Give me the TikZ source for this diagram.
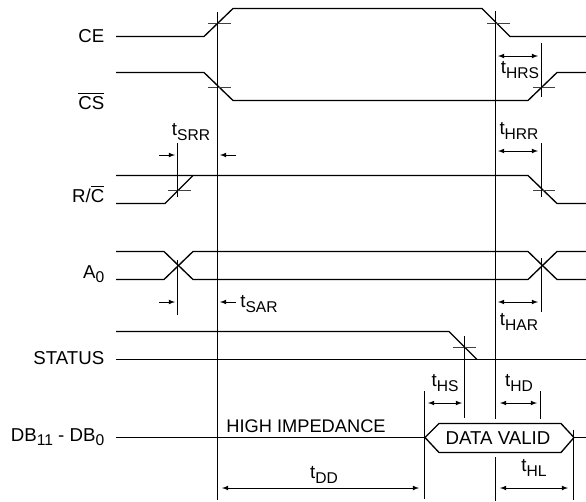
\documentclass[tikz,border=0pt]{standalone}
\usepackage{amsmath}
\usepackage{fontspec}
\setmainfont{Liberation Sans}
\usetikzlibrary{arrows}
\newcommand{\sigsub}[2]{#1\raisebox{-0.22em}{\fontsize{11.7}{12}\selectfont #2}}
\tikzset{
  wave/.style={line width=1pt},
  guide/.style={line width=0.75pt},
  tick/.style={line width=0.55pt,black!75},
  span/.style={line width=0.6pt,>=latex},
  sig/.style={anchor=east,inner sep=0pt},
  lbl/.style={inner sep=0pt}
}
\begin{document}
\begin{tikzpicture}[x=0.75pt,y=-0.75pt,font=\fontsize{14}{15}\selectfont]
      \useasboundingbox (0,0) rectangle (586,501);
      % signal names
      \path (104.5,36) node[sig] (ce) {CE};
      \path (104.5,101) node[sig] (cs) {$\overline{\text{CS}}$};
      \path (104.5,194) node[sig] (rc) {R/$\overline{\text{C}}$};
      \path (104.5,274) node[sig] (azero) {\sigsub{A}{0}};
      \path (104.5,358) node[sig] (status) {STATUS};
      \path (104.5,437) node[sig] (db) {\sigsub{DB}{11}\ -\ \sigsub{DB}{0}};
      % waveforms
      \draw[wave] (116,36.5) -- (204,36.5) -- (233,8.5) -- (482,8.5) -- (510,36.5) -- (586,36.5);
      \draw[wave] (116,72.5) -- (204,72.5) -- (233,100.5) -- (528,100.5) -- (557,72.5) -- (586,72.5);
      \draw[wave] (116,175.5) -- (528,175.5) -- (557,203.5) -- (586,203.5);
      \draw[wave] (116,203.5) -- (165,203.5) -- (193,175.5);
      \draw[wave] (116,251.5) -- (164,251.5) -- (193,279.5) -- (528,279.5) -- (557,251.5) -- (586,251.5);
      \draw[wave] (116,279.5) -- (164,279.5) -- (193,251.5) -- (528,251.5) -- (557,279.5) -- (586,279.5);
      \draw[wave] (116,331.5) -- (449,331.5) -- (477,359.5);
      \draw[wave] (116,359.5) -- (586,359.5);
      \draw[wave] (116,437.5) -- (425,437.5);
      \draw[wave] (574,437.5) -- (586,437.5);
      \draw[wave] (425,437.5) -- (439,423.5) -- (561,423.5) -- (574,437.5) -- (561,452.5) -- (439,452.5) -- cycle;
      \path (498,438) node[lbl] (valid) {DATA VALID};
      \path (306,426) node[lbl,font=\fontsize{13.7}{15}\selectfont] (hiz) {HIGH IMPEDANCE};
      % level marks
      \draw[tick] (208,23) -- (231,23);
      \draw[tick] (487,23) -- (510,23);
      \draw[tick] (208,87) -- (231,87);
      \draw[tick] (533,87) -- (555,87);
      \draw[tick] (168,190) -- (191,190);
      \draw[tick] (533,190) -- (555,190);
      \draw[tick] (453,347) -- (476,347);
      % guides
      \draw[guide] (217.5,12) -- (217.5,500);
      \draw[guide] (495.5,11) -- (495.5,419);
      \draw[guide] (495.5,457) -- (495.5,501);
      \draw[guide] (541.5,43) -- (541.5,97);
      \draw[guide] (541.5,143) -- (541.5,197);
      \draw[guide] (541.5,258) -- (541.5,312);
      \draw[guide] (177.5,143) -- (177.5,197);
      \draw[guide] (177.5,260) -- (177.5,315);
      \draw[guide] (464.5,336) -- (464.5,418);
      \draw[guide] (424.5,391) -- (424.5,499);
      \draw[guide] (540.5,391) -- (540.5,419);
      \draw[guide] (573.5,430) -- (573.5,500);
      % timing spans
      \draw[span,->] (159,155) -- (175,155);
      \draw[span,->] (236,155) -- (220,155);
      \draw[span,->] (159,302) -- (175,302);
      \draw[span,->] (236,302) -- (220,302);
      \draw[span,<->] (498,56) -- (538,56);
      \draw[span,<->] (498,151) -- (538,151);
      \draw[span,<->] (498,302) -- (538,302);
      \draw[span,<->] (428,403) -- (462,403);
      \draw[span,<->] (500,403) -- (537,403);
      \draw[span,<->] (500,488) -- (568,488);
      \draw[span,<->] (222,488) -- (419,488);
      % timing names
      \path (191,132) node[lbl] (tsrr) {\sigsub{t}{SRR}};
      \path (520,70) node[lbl] (thrs) {\sigsub{t}{HRS}};
      \path (519,131) node[lbl] (thrr) {\sigsub{t}{HRR}};
      \path (259,304) node[lbl] (tsar) {\sigsub{t}{SAR}};
      \path (519,322) node[lbl] (thar) {\sigsub{t}{HAR}};
      \path (445,383) node[lbl] (ths) {\sigsub{t}{HS}};
      \path (519,383) node[lbl] (thd) {\sigsub{t}{HD}};
      \path (534,468) node[lbl] (thl) {\sigsub{t}{HL}};
      \path (324,475) node[lbl] (tdd) {\sigsub{t}{DD}};
    \end{tikzpicture}
\end{document}
